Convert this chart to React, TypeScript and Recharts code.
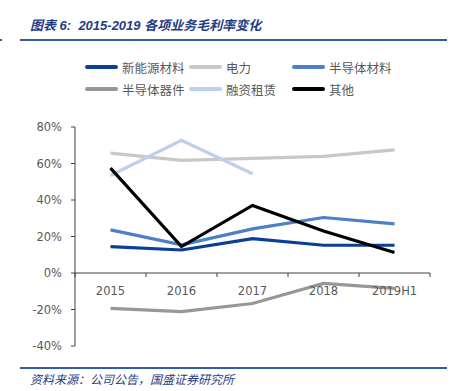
import { LineChart, Line, XAxis, YAxis, Legend, ReferenceLine } from "recharts";

const categories = ["2015", "2016", "2017", "2018", "2019H1"];

const newEnergy = [14.5, 12.6, 18.8, 15.2, 15.2];
const power = [65.7, 61.7, 62.8, 63.9, 67.5];
const semiMaterial = [23.6, 15.4, 24.2, 30.4, 26.9];
const semiDevice = [-19.4, -21.2, -16.7, -5.7, -8.4];
const leasing = [53.4, 72.7, 54.4, null, null];
const other = [57.5, 14.5, 37.0, 23.0, 11.2];

const yTicks = [-40, -20, 0, 20, 40, 60, 80];

const series = [
  { key: "新能源材料", values: newEnergy, color: "#0B3F95" },
  { key: "电力", values: power, color: "#C8C8C8" },
  { key: "半导体材料", values: semiMaterial, color: "#4D80C8" },
  { key: "半导体器件", values: semiDevice, color: "#979797" },
  { key: "融资租赁", values: leasing, color: "#BCD0EC" },
  { key: "其他", values: other, color: "#000000" },
];

const data = categories.map((c, i) => {
  const row: Record<string, string | number | null> = { name: c };
  series.forEach((s) => (row[s.key] = s.values[i]));
  return row;
});

// plot geometry
const CHART_W = 466;
const CHART_H = 360;
const PLOT_LEFT = 75;
const PLOT_RIGHT = 430;
const PLOT_TOP = 127;
const PLOT_BOTTOM = 346;
const Y_MIN = -40;
const Y_MAX = 80;
const ZERO_Y = PLOT_TOP + ((PLOT_BOTTOM - PLOT_TOP) * Y_MAX) / (Y_MAX - Y_MIN);
const BAND = (PLOT_RIGHT - PLOT_LEFT) / categories.length;
const AXIS_COLOR = "#404040";
const TEXT_COLOR = "#595959";

const XTick = (props: any) => {
  const { x, payload, index } = props;
  const last = index === categories.length - 1;
  return (
    <g>
      <line x1={x - BAND / 2} x2={x - BAND / 2} y1={ZERO_Y} y2={ZERO_Y + 4} stroke={AXIS_COLOR} />
      {last && (
        <line x1={x + BAND / 2} x2={x + BAND / 2} y1={ZERO_Y} y2={ZERO_Y + 4} stroke={AXIS_COLOR} />
      )}
      <text
        x={x}
        y={ZERO_Y + 17.5}
        textAnchor="middle"
        dominantBaseline="central"
        fill={TEXT_COLOR}
        fontSize={11.5}
        fontFamily="DejaVu Sans"
      >
        {payload.value}
      </text>
    </g>
  );
};

const LegendGrid = () => (
  <div style={{ display: "grid", gridTemplateColumns: "104px 103px 120px", rowGap: 4 }}>
    {series.map((s) => (
      <div key={s.key} style={{ display: "flex", alignItems: "center", height: 18 }}>
        <span
          style={{
            display: "inline-block",
            width: 33,
            height: 4,
            borderRadius: 2,
            background: s.color,
            marginRight: 4,
          }}
        />
        <span
          style={{
            fontFamily: "Noto Sans CJK SC",
            fontSize: 12.5,
            color: TEXT_COLOR,
            whiteSpace: "nowrap",
          }}
        >
          {s.key}
        </span>
      </div>
    ))}
  </div>
);

export default function App() {
  return (
    <div
      style={{
        position: "absolute",
        left: 0,
        top: 0,
        width: 466,
        height: 391,
        background: "#fff",
        overflow: "hidden",
      }}
    >
      <div
        style={{
          position: "absolute",
          left: 30,
          top: 15,
          fontFamily: "'Liberation Sans', 'Noto Sans CJK SC'",
          fontStyle: "italic",
          fontWeight: "bold",
          fontSize: 13,
          color: "#1F3C84",
          whiteSpace: "nowrap",
        }}
      >
        图表 6:&nbsp; 2015-2019 各项业务毛利率变化
      </div>
      <div style={{ position: "absolute", left: 0, top: 39, width: 2, height: 2, background: "#2E5CA6" }} />
      <div style={{ position: "absolute", left: 20, top: 39, width: 427, height: 2, background: "#2E5CA6" }} />

      <div style={{ position: "absolute", left: 0, top: 0 }}>
        <LineChart
          width={CHART_W}
          height={CHART_H}
          data={data}
          margin={{ top: PLOT_TOP, right: CHART_W - PLOT_RIGHT, left: 0, bottom: CHART_H - PLOT_BOTTOM - 10 }}
        >
          <XAxis
            dataKey="name"
            height={10}
            axisLine={false}
            tickLine={false}
            tick={<XTick />}
            interval={0}
            padding={{ left: BAND / 2, right: BAND / 2 }}
          />
          <YAxis
            width={PLOT_LEFT}
            domain={[Y_MIN, Y_MAX]}
            ticks={yTicks}
            tickFormatter={(v: number) => `${v}%`}
            stroke={AXIS_COLOR}
            tickSize={4}
            tickMargin={9}
            tick={{ fill: TEXT_COLOR, fontSize: 11.5, fontFamily: "DejaVu Sans" }}
            axisLine={{ stroke: AXIS_COLOR }}
            tickLine={{ stroke: AXIS_COLOR }}
          />
          <ReferenceLine y={0} stroke={AXIS_COLOR} />
          <Legend
            verticalAlign="middle"
            align="center"
            layout="horizontal"
            content={<LegendGrid />}
            wrapperStyle={{ top: 58, left: 85, width: 340, height: 44 }}
          />
          {series.map((s) => (
            <Line
              key={s.key}
              type="linear"
              dataKey={s.key}
              stroke={s.color}
              strokeWidth={3.2}
              dot={false}
              activeDot={false}
              isAnimationActive={false}
              connectNulls={false}
            />
          ))}
        </LineChart>
      </div>

      <div style={{ position: "absolute", left: 20, top: 367, width: 427, height: 2, background: "#2E5CA6" }} />
      <div
        style={{
          position: "absolute",
          left: 30,
          top: 370,
          fontFamily: "Noto Sans CJK SC",
          fontStyle: "italic",
          fontSize: 12,
          color: "#1F3C84",
          whiteSpace: "nowrap",
        }}
      >
        资料来源：公司公告，国盛证券研究所
      </div>
    </div>
  );
}
